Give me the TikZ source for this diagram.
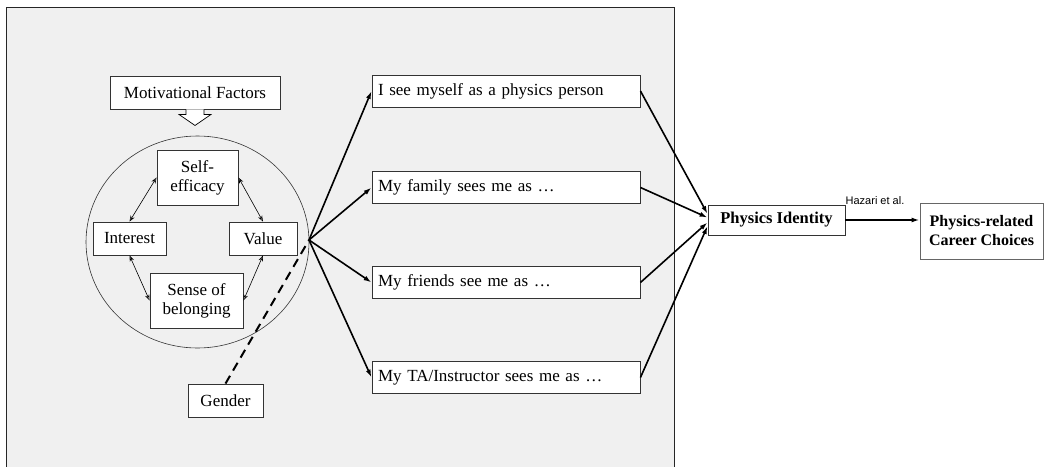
\documentclass[tikz,border=0pt]{standalone}
\usepackage{fontspec}
\setmainfont{Liberation Serif}
\newfontfamily\arialfont{Liberation Sans}
\usetikzlibrary{arrows.meta,calc,shapes.geometric}
\tikzset{
  box/.style={draw=black!80, line width=0.9pt, fill=white, inner sep=0pt, align=center,
    font=\fontsize{17}{19}\selectfont},
  rbox/.style={box, minimum width=268pt, minimum height=32pt, text width=256pt, align=left},
  small/.style={{Stealth[length=6pt,width=4.5pt,open]}-{Stealth[length=6pt,width=4.5pt,open]}, line width=0.6pt},
  main/.style={line width=1.6pt, -{Latex[length=8pt,width=5pt]}},
}
\begin{document}
\begin{tikzpicture}[x=1pt,y=-1pt]
\useasboundingbox (0,0) rectangle (1047,466);
\fill[white] (0,0) rectangle (1047,466);
\draw[fill=black!6, draw=black!85, line width=0.8pt] (6,475) -- (6,7) -- (674,7) -- (674,475);
% motivational
\node[box, minimum width=170pt, minimum height=33pt] (mf) at (195,92.5) {Motivational Factors};
\draw[fill=white, line width=0.7pt] ($(mf.south)+(-9,0)$) -- ++(0,5) -- ++(-7,0) -- ($(mf.south)+(0,16)$) -- ($(mf.south)+(16,5)$) -- ++(-7,0) -- ($(mf.south)+(9,0)$);
\node[draw=black!80, line width=0.6pt, ellipse, minimum width=223pt, minimum height=212pt, inner sep=0pt] (circ) at (197.5,242) {};
\node[box, minimum width=81pt, minimum height=55pt] (se) at (197.5,177.5) {Self-\\efficacy};
\node[box, minimum width=73pt, minimum height=33pt] (int) at (129.5,238.5) {Interest};
\node[box, minimum width=68pt, minimum height=33pt] (val) at (263,238.5) {Value};
\node[box, minimum width=93pt, minimum height=55pt] (sb) at (196.5,300.5) {Sense of\\belonging};
\draw[small] (se.west) -- (int.north);
\draw[small] (se.east) -- (val.north);
\draw[small] (int.south) -- (sb.west);
\draw[small] (val.south) -- (sb.east);
\node[box, minimum width=75pt, minimum height=33pt] (gen) at (225.5,400.5) {Gender};
\coordinate (hub) at (309,240);
\draw[line width=2pt, dash pattern=on 9pt off 6pt] (gen.north) -- (hub);
% right boxes
\node[rbox] (b1) at (506,91) {I see myself as a physics person};
\node[rbox] (b2) at (506,187.5) {My family sees me as \dots};
\node[rbox] (b3) at (506,282.5) {My friends see me as \dots};
\node[rbox] (b4) at (506,377.5) {My TA/Instructor sees me as \dots};
\foreach \b in {b1,b2,b3,b4} \draw[main] (hub) -- (\b.west);
\node[box, minimum width=137pt, minimum height=30pt, font=\fontsize{16.5}{18}\selectfont\bfseries] (pi) at (776.5,220) {Physics Identity};
\draw[main] (b1.east) -- (pi.175);
\draw[main] (b2.east) -- (pi.178);
\draw[main] (b3.east) -- (pi.182);
\draw[main] (b4.east) -- (pi.185);
\node[box, draw=black!60, minimum width=123pt, minimum height=56pt, font=\fontsize{16}{19}\selectfont\bfseries] (car) at (981.5,231) {Physics-related\\Career Choices};
\draw[main] (pi.east) -- (pi.east -| car.west);
\node[font=\arialfont\fontsize{11}{12}\selectfont, inner sep=0pt] (haz) at (875,201) {Hazari et al.};
\end{tikzpicture}
\end{document}
